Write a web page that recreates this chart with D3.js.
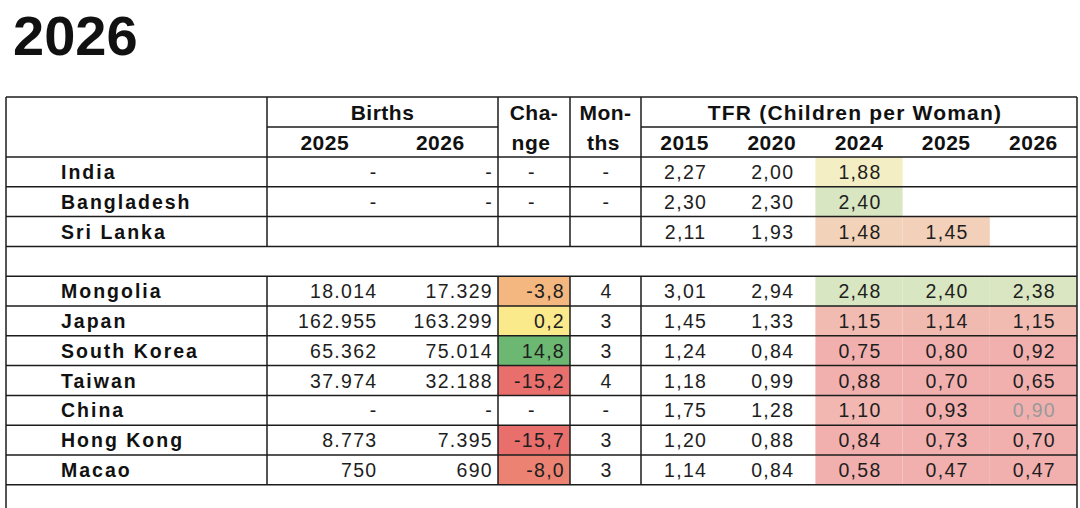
<!DOCTYPE html>
<html>
<head>
<meta charset="utf-8">
<script src="https://cdn.jsdelivr.net/npm/d3@7"></script>
<style>
  body { margin: 0; background: #fff; }
  svg { display: block; font-family: "Liberation Sans", Arial, sans-serif; }
</style>
</head>
<body>
<div id="chart"></div>
<script>

// --------------- Data --------------- //

const title = "2026";

const countries = ["India", "Bangladesh", "Sri Lanka", "Mongolia", "Japan",
    "South Korea", "Taiwan", "China", "Hong Kong", "Macao"];

// "-" = dash in the sheet, "" = empty cell
const births2025 = ["-", "-", "", 18014, 162955, 65362, 37974, "-", 8773, 750];
const births2026 = ["-", "-", "", 17329, 163299, 75014, 32188, "-", 7395, 690];
const change     = ["-", "-", "", -3.8, 0.2, 14.8, -15.2, "-", -15.7, -8.0];
const months     = ["-", "-", "", 4, 3, 3, 4, "-", 3, 3];

const tfr2015 = [2.27, 2.30, 2.11, 3.01, 1.45, 1.24, 1.18, 1.75, 1.20, 1.14];
const tfr2020 = [2.00, 2.30, 1.93, 2.94, 1.33, 0.84, 0.99, 1.28, 0.88, 0.84];
const tfr2024 = [1.88, 2.40, 1.48, 2.48, 1.15, 0.75, 0.88, 1.10, 0.84, 0.58];
const tfr2025 = [null, null, 1.45, 2.40, 1.14, 0.80, 0.70, 0.93, 0.73, 0.47];
const tfr2026 = [null, null, null, 2.38, 1.15, 0.92, 0.65, 0.90, 0.70, 0.47];

const birthYears = ["2025", "2026"];
const tfrYears = ["2015", "2020", "2024", "2025", "2026"];
const colouredTfrYears = ["2024", "2025", "2026"];
const greyCells = [["China", "2026"]];   // provisional value, grey text

// spacer row sits before Mongolia
const spacerBefore = 3;


// --------------- Basic Setup --------------- //

const width = 1080,
    height = 508;

const svg = d3.select("#chart")
    .append("svg")
    .attr("width", width)
    .attr("height", height)
    .attr("viewBox", [0, 0, width, height]);

// European number style: 162.955 and 2,27
const locale = d3.formatLocale({
    decimal: ",", thousands: ".", grouping: [3], currency: ["", ""], minus: "-"
});
const fmtBirths = locale.format(",d"),
    fmtChange = locale.format(".1f"),
    fmtTfr = locale.format(".2f");

// Table geometry
const tLeft = 6, tRight = 1077, tTop = 97;
const headH = 30;
const dataTop = tTop + 2 * headH;
const rowH = 29.8;
const nRows = countries.length + 1;

const y = d3.scaleLinear().domain([0, nRows]).range([dataTop, dataTop + nRows * rowH]);
const rowOf = i => i < spacerBefore ? i : i + 1;

const xCountry = [tLeft, 267];
const xBirths = d3.scaleBand().domain(birthYears).range([267, 498]);
const xChange = [498, 570];
const xMonths = [570, 641];
const xTfr = d3.scaleBand().domain(tfrYears).range([641, tRight]);

// Conditional formatting
const changeColor = d3.scaleLinear()
    .domain([-9.5, 0.2, 14.8])
    .range(["#e96f6d", "#faea8c", "#6cb872"])
    .clamp(true);

const tfrColor = d3.scaleLinear()
    .domain([1.0, 1.9, 2.4])
    .range(["#f1b0ae", "#f3efc3", "#d8e6c1"])
    .clamp(true);

const tfrByYear = { "2015": tfr2015, "2020": tfr2020, "2024": tfr2024, "2025": tfr2025, "2026": tfr2026 };

const lineColor = "#1c1c1c";
const textColor = "#1e1e1e";


// --------------- Title --------------- //

svg.append("text")
    .attr("x", 13)
    .attr("y", 55)
    .attr("font-size", 56)
    .attr("font-weight", "bold")
    .attr("fill", "#111")
    .text(title);


// --------------- Cell fills --------------- //

const fills = svg.append("g");

countries.forEach((c, i) => {
    const r = rowOf(i);
    if (typeof change[i] === "number") {
        fills.append("rect")
            .attr("x", xChange[0]).attr("y", y(r))
            .attr("width", xChange[1] - xChange[0]).attr("height", rowH)
            .attr("fill", changeColor(change[i]));
    }
    colouredTfrYears.forEach(yr => {
        const v = tfrByYear[yr][i];
        if (v == null) return;
        fills.append("rect")
            .attr("x", xTfr(yr)).attr("y", y(r))
            .attr("width", xTfr.bandwidth()).attr("height", rowH)
            .attr("fill", tfrColor(v));
    });
});


// --------------- Grid lines --------------- //

const grid = svg.append("g")
    .attr("stroke", lineColor)
    .attr("stroke-width", 1.5)
    .attr("fill", "none");

const hLine = (x1, x2, yy) => grid.append("line").attr("x1", x1).attr("x2", x2).attr("y1", yy).attr("y2", yy);
const vLine = (xx, y1, y2) => grid.append("line").attr("x1", xx).attr("x2", xx).attr("y1", y1).attr("y2", y2);

// outer frame (open at the bottom of the picture)
hLine(tLeft, tRight, tTop);
vLine(tLeft, tTop, height);
vLine(tRight, tTop, height);

// header rules
hLine(xBirths.range()[0], xBirths.range()[1], tTop + headH);
hLine(xTfr.range()[0], xTfr.range()[1], tTop + headH);
hLine(tLeft, tRight, dataTop);

// row rules
d3.range(1, nRows + 1).forEach(r => hLine(tLeft, tRight, y(r)));

// column rules, broken by the spacer row
const colRules = [xCountry[1], xBirths.range()[1], xChange[1], xMonths[1]];
colRules.forEach(xx => {
    vLine(xx, tTop, y(spacerBefore));
    vLine(xx, y(spacerBefore + 1), y(nRows));
});


// --------------- Header texts --------------- //

const head = svg.append("g")
    .attr("font-size", 21)
    .attr("font-weight", "bold")
    .attr("fill", "#111")
    .attr("letter-spacing", 0.5)
    .attr("text-anchor", "middle");

const base1 = tTop + headH / 2 + 7.5,
    base2 = tTop + headH + headH / 2 + 7.5;

head.append("text").attr("x", d3.mean(xBirths.range())).attr("y", base1).text("Births");
birthYears.forEach(yr => head.append("text").attr("x", xBirths(yr) + xBirths.bandwidth() / 2).attr("y", base2).text(yr));
head.append("text").attr("x", d3.mean(xChange)).attr("y", base1).text("Cha-");
head.append("text").attr("x", d3.mean(xChange) - 3).attr("y", base2).text("nge");
head.append("text").attr("x", d3.mean(xMonths)).attr("y", base1).text("Mon-");
head.append("text").attr("x", d3.mean(xMonths) - 2).attr("y", base2).text("ths");
head.append("text").attr("x", d3.mean(xTfr.range()) - 4).attr("y", base1)
    .attr("letter-spacing", 1.2)
    .text("TFR (Children per Woman)");
tfrYears.forEach(yr => head.append("text").attr("x", xTfr(yr) + xTfr.bandwidth() / 2).attr("y", base2).text(yr));


// --------------- Body texts --------------- //

const body = svg.append("g")
    .attr("font-size", 19.5)
    .attr("fill", textColor)
    .attr("letter-spacing", 1.3);

const isGrey = (c, yr) => greyCells.some(g => g[0] === c && g[1] === yr);

countries.forEach((c, i) => {
    const r = rowOf(i);
    const base = y(r) + rowH / 2 + 7;

    // country name
    body.append("text")
        .attr("x", 61).attr("y", base)
        .attr("font-weight", "bold")
        .attr("fill", "#111")
        .attr("letter-spacing", 2)
        .text(c);

    // births, right aligned
    [births2025, births2026].forEach((arr, k) => {
        const v = arr[i];
        if (v === "") return;
        body.append("text")
            .attr("x", xBirths(birthYears[k]) + xBirths.bandwidth() - 5)
            .attr("y", base)
            .attr("text-anchor", "end")
            .text(typeof v === "number" ? fmtBirths(v) : v);
    });

    // change
    if (change[i] !== "") {
        const num = typeof change[i] === "number";
        body.append("text")
            .attr("x", num ? xChange[1] - 5 : d3.mean(xChange) - 2)
            .attr("y", base)
            .attr("text-anchor", num ? "end" : "middle")
            .text(num ? fmtChange(change[i]) : change[i]);
    }

    // months
    if (months[i] !== "") {
        body.append("text")
            .attr("x", d3.mean(xMonths) + 1)
            .attr("y", base)
            .attr("text-anchor", "middle")
            .text(months[i]);
    }

    // TFR
    tfrYears.forEach(yr => {
        const v = tfrByYear[yr][i];
        if (v == null) return;
        body.append("text")
            .attr("x", xTfr(yr) + xTfr.bandwidth() / 2 + 1)
            .attr("y", base)
            .attr("text-anchor", "middle")
            .attr("fill", isGrey(c, yr) ? "#9a9a9a" : textColor)
            .text(fmtTfr(v));
    });
});

</script>
</body>
</html>
